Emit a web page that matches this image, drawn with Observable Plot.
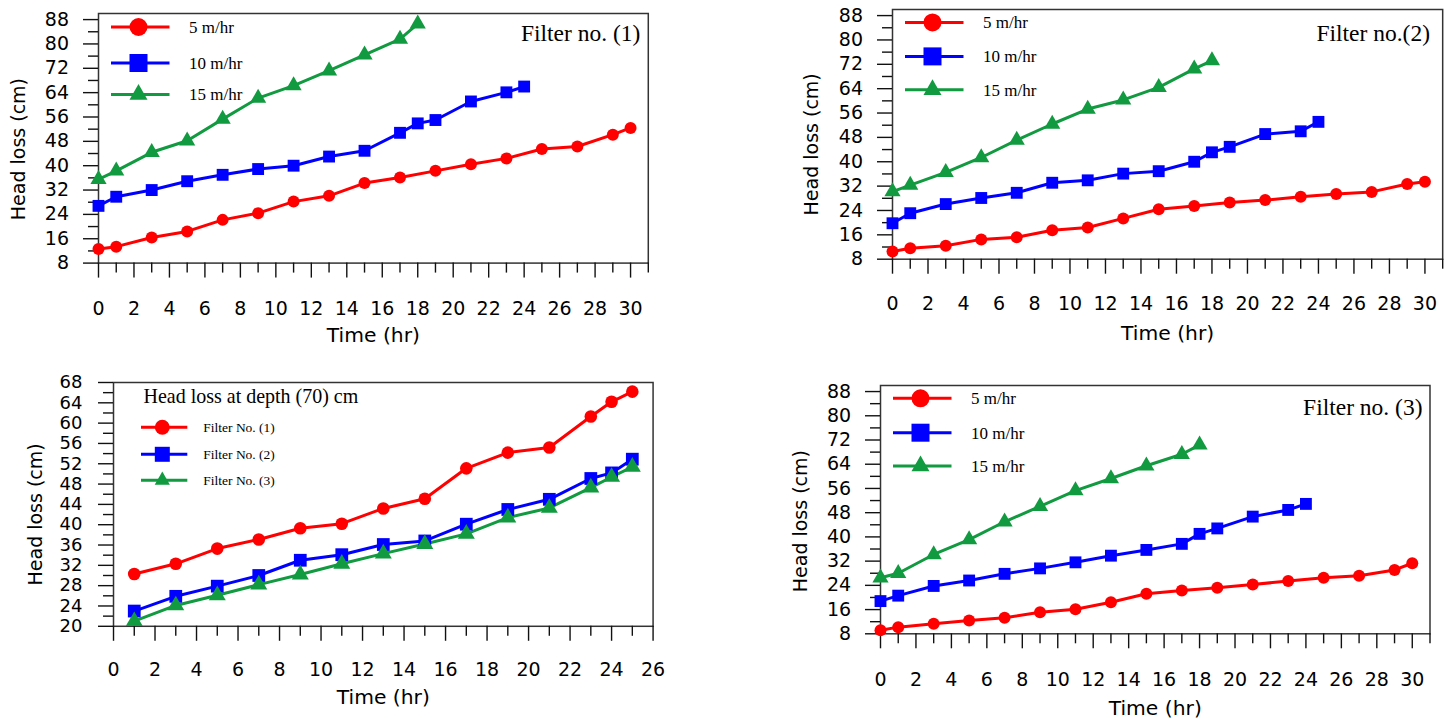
<!DOCTYPE html>
<html><head><meta charset="utf-8">
<script src="https://cdn.jsdelivr.net/npm/d3@7"></script>
<script src="https://cdn.jsdelivr.net/npm/@observablehq/plot@0.6"></script>
<style>
html,body{margin:0;padding:0;background:#fff;overflow:hidden;}
#page{position:relative;width:1453px;height:720px;overflow:hidden;background:#fff;}
.panel{position:absolute;}
</style></head><body><div id="page"></div>
<script>
// ---- time values (hr) ----
const time5 = [0,1,3,5,7,9,11,13,15,17,19,21,23,25,27,29,30];
const time10 = [0,1,3,5,7,9,11,13,15,17,18,19,21,23,24];
const time15 = [0,1,3,5,7,9,11,13,15,17,18];
const timeDepth = [1,3,5,7,9,11,13,15,17,19,21,23,24,25];

// ---- Filter no. (1) head loss (cm) ----
const filter1_5 = [12.6,13.4,16.4,18.4,22.2,24.4,28.2,30.1,34.3,36.1,38.3,40.5,42.4,45.5,46.3,50.2,52.4];
const filter1_10 = [26.8,29.8,32.0,34.9,37.0,38.9,40.0,43.0,44.9,50.8,53.9,55.0,61.1,64.1,66.0];
const filter1_15 = [35.5,38.3,44.4,48.2,55.3,62.2,66.3,71.2,76.4,81.6,86.6];

// ---- Filter no. (2) ----
const filter2_5 = [10.5,11.6,12.4,14.5,15.2,17.5,18.4,21.4,24.4,25.5,26.6,27.4,28.5,29.4,30.1,32.7,33.4];
const filter2_10 = [19.8,23.1,26.1,28.1,29.8,33.1,33.9,36.1,36.9,40.0,43.1,44.9,49.1,50.0,53.1];
const filter2_15 = [30.2,32.3,36.5,41.4,47.1,52.4,57.3,60.3,64.4,70.5,73.2];

// ---- Filter no. (3) ----
const filter3_5 = [9.2,10.2,11.3,12.4,13.3,15.1,16.1,18.4,21.2,22.3,23.2,24.3,25.4,26.5,27.2,29.1,31.3];
const filter3_10 = [18.8,20.6,23.8,25.6,27.8,29.6,31.6,33.8,35.7,37.7,41.0,42.8,46.7,48.9,50.9];
const filter3_15 = [26.5,28.0,34.2,39.1,45.0,50.1,55.3,59.3,63.5,67.3,70.4];

// ---- Head loss at depth (70) cm ----
const depthFilter1 = [30.3,32.3,35.3,37.1,39.3,40.2,43.2,45.1,51.1,54.2,55.2,61.3,64.2,66.2];
const depthFilter2 = [23.0,25.9,27.9,30.0,33.0,34.1,36.1,36.8,40.1,43.0,45.0,49.1,50.2,52.9];
const depthFilter3 = [21.0,24.1,26.1,28.2,30.2,32.3,34.3,36.2,38.2,41.4,43.3,47.3,49.4,51.4];

// ---- labels and ticks ----
const rateLabels = ["5 m/hr","10 m/hr","15 m/hr"];
const depthLabels = ["Filter No. (1)","Filter No. (2)","Filter No. (3)"];
const panelTitles = ["Filter no. (1)","Filter no.(2)","Filter no. (3)"];
const depthTitle = "Head loss at depth (70) cm";
const xLabel = "Time (hr)";
const yLabel = "Head loss (cm)";
const xTicks30 = [0,2,4,6,8,10,12,14,16,18,20,22,24,26,28,30];
const xMinor30 = [1,3,5,7,9,11,13,15,17,19,21,23,25,27,29,31];
const yTicks88 = [8,16,24,32,40,48,56,64,72,80,88];
const yMinor88 = [12,20,28,36,44,52,60,68,76,84];
const xTicks26 = [0,2,4,6,8,10,12,14,16,18,20,22,24,26];
const xMinor26 = [1,3,5,7,9,11,13,15,17,19,21,23,25];
const yTicks68 = [20,24,28,32,36,40,44,48,52,56,60,64,68];
const yMinor68 = [22,26,30,34,38,42,46,50,54,58,62,66];

const RED = "#ff0000", BLUE = "#0000ff", GREEN = "#119a3f";

function series(times, values) { return times.map((t, i) => ({t, v: values[i]})); }

const page = document.getElementById("page");

function legendMark(labels, colors, symbols, lay) {
  return (index, scales, values, dims) => {
    const g = d3.create("svg:g");
    const x0 = dims.marginLeft, y0 = dims.marginTop;
    labels.forEach((lab, i) => {
      const y = y0 + lay.rows[i];
      g.append("line").attr("x1", x0 + lay.line[0]).attr("x2", x0 + lay.line[1])
        .attr("y1", y).attr("y2", y).attr("stroke", colors[i]).attr("stroke-width", 3);
      g.append("path").attr("d", d3.symbol(symbols[i], lay.sizes[i])())
        .attr("transform", `translate(${x0 + lay.mark},${y})`).attr("fill", colors[i]);
      g.append("text").attr("x", x0 + lay.text).attr("y", y).attr("dy", "0.35em")
        .attr("text-anchor", "start")
        .attr("font-family", "'Liberation Serif'").attr("font-size", lay.fs).attr("fill", "#000").text(lab);
    });
    return g.node();
  };
}

function makePanel(cfg) {
  const W = cfg.R - cfg.L, H = cfg.B - cfg.T;
  const mL = 100, mT = 15, mR = 15, mB = 95;
  const marks = [
    Plot.frame({stroke: "#333", strokeWidth: 1.5}),
    Plot.axisY(cfg.yMinor, {anchor: "left", tickSize: 10, fill: "none", stroke: "#111", strokeWidth: 1.4, label: null}),
    Plot.axisY(cfg.yMajor, {anchor: "left", tickSize: 15, tickPadding: cfg.yPad, fontSize: cfg.yFs, fill: "#000", stroke: "#111", strokeWidth: 1.4, label: null}),
    Plot.axisX(cfg.xMinor, {anchor: "bottom", tickSize: 10, fill: "none", stroke: "#111", strokeWidth: 1.4, label: null}),
    Plot.axisX(cfg.xMajor, {anchor: "bottom", tickSize: 15, tickPadding: cfg.xPad, fontSize: 19, fill: "#000", stroke: "#111", strokeWidth: 1.4, label: null}),
    Plot.text([xLabel], {text: d => d, frameAnchor: "bottom", textAnchor: "middle", lineAnchor: "middle", dy: cfg.timeDy, fontSize: 20.3, fill: "#000"}),
    Plot.text([yLabel], {text: d => d, frameAnchor: "left", textAnchor: "middle", lineAnchor: "middle", rotate: -90, dx: cfg.ylDx, dy: cfg.ylDy, fontSize: 19, fill: "#000"})
  ];
  cfg.series.forEach(s => marks.push(Plot.line(s.data, {x: "t", y: "v", stroke: s.color, strokeWidth: 3})));
  cfg.series.forEach(s => marks.push(Plot.dot(s.data, {x: "t", y: "v", symbol: s.symbol, r: s.r, fill: s.color, stroke: "none"})));
  if (cfg.title) marks.push(Plot.text([cfg.title], {text: d => d, frameAnchor: "top-right", textAnchor: "end", lineAnchor: "middle", dx: cfg.titleDx, dy: cfg.titleDy, fontFamily: "'Liberation Serif'", fontSize: cfg.titleFs, fill: "#000"}));
  if (cfg.legendTitle) marks.push(Plot.text([cfg.legendTitle], {text: d => d, frameAnchor: "top-left", textAnchor: "start", lineAnchor: "middle", dx: 30, dy: 14, fontFamily: "'Liberation Serif'", fontSize: 20, fill: "#000"}));
  marks.push(legendMark(cfg.legend.labels, cfg.series.map(s => s.color), [d3.symbolCircle, d3.symbolSquare, d3.symbolTriangle], cfg.legend));

  const chart = Plot.plot({
    width: W + mL + mR, height: H + mT + mB,
    marginLeft: mL, marginTop: mT, marginRight: mR, marginBottom: mB,
    x: {domain: cfg.xDomain}, y: {domain: cfg.yDomain},
    style: {fontFamily: "'DejaVu Sans'", background: "transparent", overflow: "visible", color: "#000"},
    marks
  });
  const div = document.createElement("div");
  div.className = "panel";
  div.style.left = (cfg.L - mL) + "px";
  div.style.top = (cfg.T - mT) + "px";
  div.style.width = (W + mL + mR) + "px";
  div.append(chart);
  page.append(div);
  return chart;
}

const rateLegend = (rows) => ({labels: rateLabels, rows, line: [13, 71.5], mark: 40.5, text: 91, fs: 17, sizes: [Math.PI * 81, 324, 140]});
const rateSeries = (a, b, c) => [
  {data: series(time5, a), color: RED, symbol: "circle", r: 6},
  {data: series(time10, b), color: BLUE, symbol: "square", r: 6.7},
  {data: series(time15, c), color: GREEN, symbol: "triangle", r: 6}
];

makePanel({L: 97.5, R: 647.3, T: 12.7, B: 262.3, xDomain: [0, 31], yDomain: [8, 90],
  xMajor: xTicks30, xMinor: xMinor30, yMajor: yTicks88, yMinor: yMinor88,
  xPad: 23, yPad: 14.5, yFs: 19, timeDy: 72.7, ylDx: -79.5, ylDy: 10.8,
  title: panelTitles[0], titleDx: -8, titleDy: 19.6, titleFs: 23.5,
  series: rateSeries(filter1_5, filter1_10, filter1_15), legend: rateLegend([14, 50, 81.5])});

makePanel({L: 891.5, R: 1441.7, T: 9.3, B: 259, xDomain: [0, 31], yDomain: [8, 90],
  xMajor: xTicks30, xMinor: xMinor30, yMajor: yTicks88, yMinor: yMinor88,
  xPad: 22.7, yPad: 14.5, yFs: 19, timeDy: 74, ylDx: -80.5, ylDy: 10,
  title: panelTitles[1], titleDx: -12.7, titleDy: 24, titleFs: 23.5,
  series: rateSeries(filter2_5, filter2_10, filter2_15), legend: rateLegend([13.4, 47.4, 80.7])});

makePanel({L: 112.7, R: 652.3, T: 381.7, B: 625.5, xDomain: [0, 26], yDomain: [20, 68],
  xMajor: xTicks26, xMinor: xMinor26, yMajor: yTicks68, yMinor: yMinor68,
  xPad: 21, yPad: 16, yFs: 18, timeDy: 71.2, ylDx: -77.7, ylDy: 10,
  legendTitle: depthTitle,
  series: [
    {data: series(timeDepth, depthFilter1), color: RED, symbol: "circle", r: 6.3},
    {data: series(timeDepth, depthFilter2), color: BLUE, symbol: "square", r: 7.2},
    {data: series(timeDepth, depthFilter3), color: GREEN, symbol: "triangle", r: 6.3}
  ],
  legend: {labels: depthLabels, rows: [45.3, 72.3, 98.3], line: [28, 74.3], mark: 49.3, text: 90.3, fs: 13.5, sizes: [Math.PI * 56, 225, 100]}});

makePanel({L: 880, R: 1429.5, T: 385, B: 633.3, xDomain: [0, 31], yDomain: [8, 90],
  xMajor: xTicks30, xMinor: xMinor30, yMajor: yTicks88, yMinor: yMinor88,
  xPad: 23.4, yPad: 14.3, yFs: 19, timeDy: 74.7, ylDx: -79.3, ylDy: 11.5,
  title: panelTitles[2], titleDx: -7.5, titleDy: 21.7, titleFs: 23.5,
  series: rateSeries(filter3_5, filter3_10, filter3_15), legend: rateLegend([13.3, 47.7, 81])});
</script>
</body></html>
